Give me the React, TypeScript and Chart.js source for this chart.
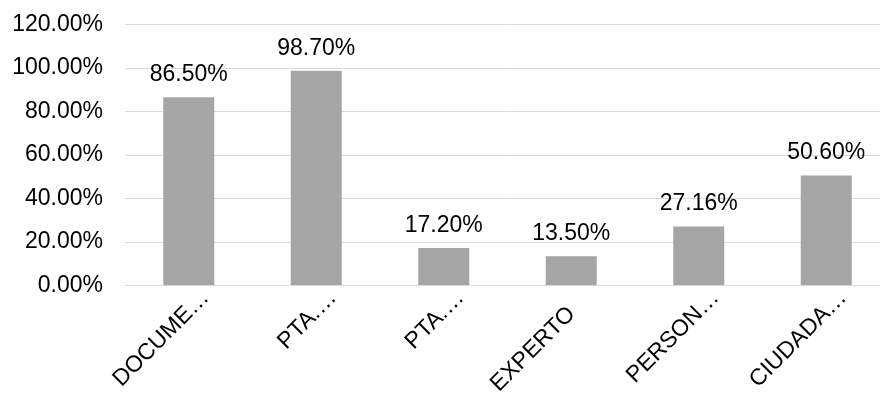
import React, { useEffect, useRef } from "react";
import { Chart, registerables } from "chart.js";

Chart.register(...registerables);

// Category names as shown on the axis (shortened ones end in an ellipsis)
const categories = ["DOCUME", "PTA.", "PTA.", "EXPERTO", "PERSON", "CIUDADA"];
const truncated = [true, true, true, false, true, true];
const values = [86.5, 98.7, 17.2, 13.5, 27.16, 50.6];
const yTicks = [0, 20, 40, 60, 80, 100, 120];

const FONT = "'Liberation Sans', Arial, sans-serif";
const TEXT = "#000000";

// Writes each bar's percentage just above it
const valueLabels = {
  id: "valueLabels",
  afterDatasetsDraw(chart: any) {
    const { ctx } = chart;
    const meta = chart.getDatasetMeta(0);
    ctx.save();
    ctx.font = `23px ${FONT}`;
    ctx.fillStyle = TEXT;
    ctx.textAlign = "center";
    ctx.textBaseline = "alphabetic";
    meta.data.forEach((bar: any, i: number) => {
      ctx.fillText(values[i].toFixed(2) + "%", bar.x, bar.y - 16);
    });
    ctx.restore();
  },
};

// Category labels at 45°, anchored on the name itself; the ellipsis runs past the tick
const categoryLabels = {
  id: "categoryLabels",
  afterDraw(chart: any) {
    const { ctx } = chart;
    const xs = chart.scales.x;
    const axisY = chart.chartArea.bottom;
    ctx.save();
    ctx.font = `23px ${FONT}`;
    ctx.fillStyle = TEXT;
    ctx.textBaseline = "alphabetic";
    categories.forEach((name, i) => {
      const x = xs.getPixelForTick(i);
      ctx.save();
      ctx.translate(x + 5, axisY + 29.5);
      ctx.rotate(-Math.PI / 4);
      ctx.textAlign = "right";
      ctx.fillText(name, 0, 0);
      if (truncated[i]) {
        ctx.textAlign = "left";
        ctx.fillText("…", 0, 0);
      }
      ctx.restore();
    });
    ctx.restore();
  },
};

export default function App() {
  const ref = useRef<HTMLCanvasElement>(null);

  useEffect(() => {
    if (!ref.current) return;
    const chart = new Chart(ref.current, {
      type: "bar",
      data: {
        labels: categories.map((c, i) => (truncated[i] ? c + "…" : c)),
        datasets: [
          {
            data: values,
            backgroundColor: "#A5A5A5",
            categoryPercentage: 0.8,
            barPercentage: 0.5,
          },
        ],
      },
      options: {
        animation: false,
        responsive: false,
        maintainAspectRatio: false,
        layout: { padding: { top: 24.5, left: 0, right: 0, bottom: 0 } },
        plugins: {
          legend: { display: false },
          tooltip: { enabled: false },
        },
        scales: {
          x: {
            grid: { display: false },
            border: { display: true, color: "#D9D9D9", width: 1 },
            ticks: { display: false, autoSkip: false },
            afterFit(scale: any) {
              scale.height = 107.5;
              scale.paddingLeft = 0;
              scale.paddingRight = 0;
            },
          },
          y: {
            min: 0,
            max: 120,
            afterBuildTicks(scale: any) {
              scale.ticks = yTicks.map((v) => ({ value: v }));
            },
            grid: { color: "#D9D9D9", lineWidth: 1, drawTicks: false },
            border: { display: false },
            ticks: {
              color: TEXT,
              font: { family: FONT, size: 23 },
              padding: 22,
              callback: (v: any) => Number(v).toFixed(2) + "%",
            },
            afterFit(scale: any) {
              scale.width = 125;
              scale.paddingTop = 0;
              scale.paddingBottom = 0;
            },
          },
        },
      },
      plugins: [valueLabels, categoryLabels],
    });
    return () => chart.destroy();
  }, []);

  return (
    <div
      style={{
        position: "absolute",
        left: 0,
        top: 0,
        width: 880,
        height: 393,
        overflow: "hidden",
        background: "#ffffff",
      }}
    >
      <canvas ref={ref} width={890} height={393} style={{ display: "block" }} />
    </div>
  );
}
